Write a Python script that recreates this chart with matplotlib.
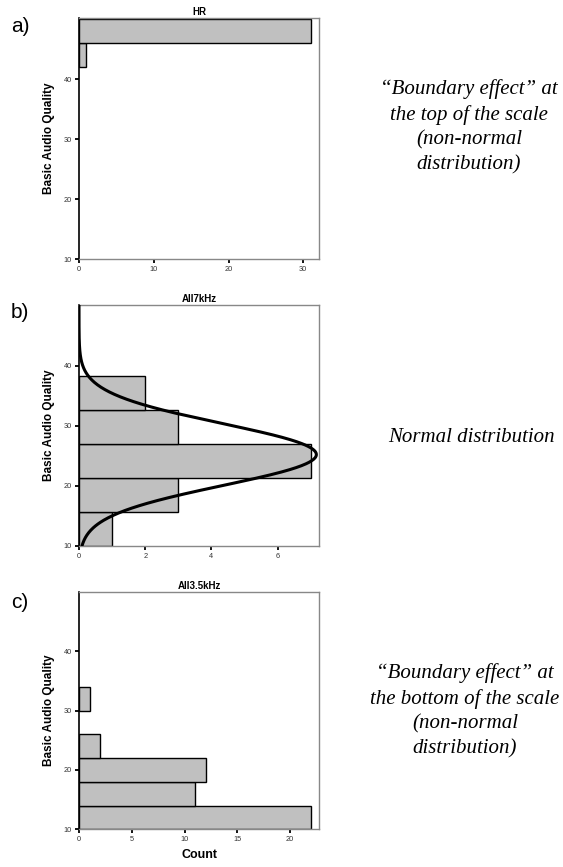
import numpy as np
import matplotlib
matplotlib.use("Agg")
import matplotlib.pyplot as plt

plt.rcParams['font.family'] = ['Liberation Sans', 'DejaVu Sans']

# ---- data ----
# Panel a: HR
hr_bin_edges = [42, 46, 50]
hr_counts = [1, 31]
hr_xticks = [0, 10, 20, 30]

# Panel b: All7kHz
k7_bin_edges = [10.0, 15.67, 21.33, 27.0, 32.67, 38.33]
k7_counts = [1, 3, 7, 3, 2]
k7_xticks = [0, 2, 4, 6]
k7_mean, k7_sd, k7_peak = 25.2, 5.15, 7.17

# Panel c: All3.5kHz
k35_bin_edges = [10, 14, 18, 22, 26, 30, 34]
k35_counts = [22, 11, 12, 2, 0, 1]
k35_xticks = [0, 5, 10, 15, 20]

titles = ["HR", "All7kHz", "All3.5kHz"]
letters = ["a)", "b)", "c)"]
y_ticks = [10, 20, 30, 40]
notes = [
    "\u201cBoundary effect\u201d at\nthe top of the scale\n(non-normal\ndistribution)",
    "Normal distribution",
    "\u201cBoundary effect\u201d at\nthe bottom of the scale\n(non-normal\ndistribution)",
]

W, H = 563, 867
fig = plt.figure(figsize=(W / 100, H / 100), dpi=100)

def frac_rect(left, top, right, bottom):
    return [left / W, 1 - bottom / H, (right - left) / W, (bottom - top) / H]

rects = [
    frac_rect(79, 18, 319, 259),
    frac_rect(79, 305.3, 319, 545.7),
    frac_rect(79, 592, 319, 829.3),
]
ytops = [50.2, 50.1, 50.0]
xmaxs = [32.1, 7.25, 22.74]
panels = [
    (hr_bin_edges, hr_counts, hr_xticks),
    (k7_bin_edges, k7_counts, k7_xticks),
    (k35_bin_edges, k35_counts, k35_xticks),
]
letter_y = [27, 313, 603]
note_x = [469, 471, 465]
note_y = [127, 438, 711]

for i, (rect, (edges, counts, xt)) in enumerate(zip(rects, panels)):
    ax = fig.add_axes(rect)
    edges = np.asarray(edges, float)
    counts = np.asarray(counts, float)
    heights = np.diff(edges)
    m = counts > 0
    ax.barh(edges[:-1][m], counts[m], height=heights[m], align='edge',
            color='#c0c0c0', edgecolor='black', linewidth=1.0, zorder=2)
    if i == 1:
        yy = np.linspace(10, 50.1, 500)
        xx = k7_peak * np.exp(-0.5 * ((yy - k7_mean) / k7_sd) ** 2)
        ax.plot(xx, yy, color='black', lw=2.2, zorder=3, solid_capstyle='round')
    ax.set_ylim(10, ytops[i])
    ax.set_xlim(0, xmaxs[i])
    ax.set_yticks(y_ticks)
    ax.set_xticks(xt)
    ax.tick_params(direction='out', length=3, width=1.3, color='black',
                   labelsize=5.3, labelcolor='#333333', pad=2)
    for s in ['top', 'right', 'bottom']:
        ax.spines[s].set_color('#888888')
        ax.spines[s].set_linewidth(1.0)
    ax.spines['left'].set_color('black')
    ax.spines['left'].set_linewidth(1.2)
    ax.set_title(titles[i], fontsize=7, fontweight='bold', pad=2.5)
    ax.set_ylabel("Basic Audio Quality", fontsize=8.5, fontweight='bold')
    ax.yaxis.set_label_coords(-0.1, 0.5)
    if i == 2:
        ax.set_xlabel("Count", fontsize=9, fontweight='bold', labelpad=4)
    fig.text(11 / W, 1 - letter_y[i] / H, letters[i], fontsize=15,
             ha='left', va='center')
    fig.text(note_x[i] / W, 1 - note_y[i] / H, notes[i], fontsize=15,
             family=['Liberation Serif', 'DejaVu Serif'], style='italic',
             ha='center', va='center', linespacing=1.4)

fig.savefig("out.png", dpi=100)
